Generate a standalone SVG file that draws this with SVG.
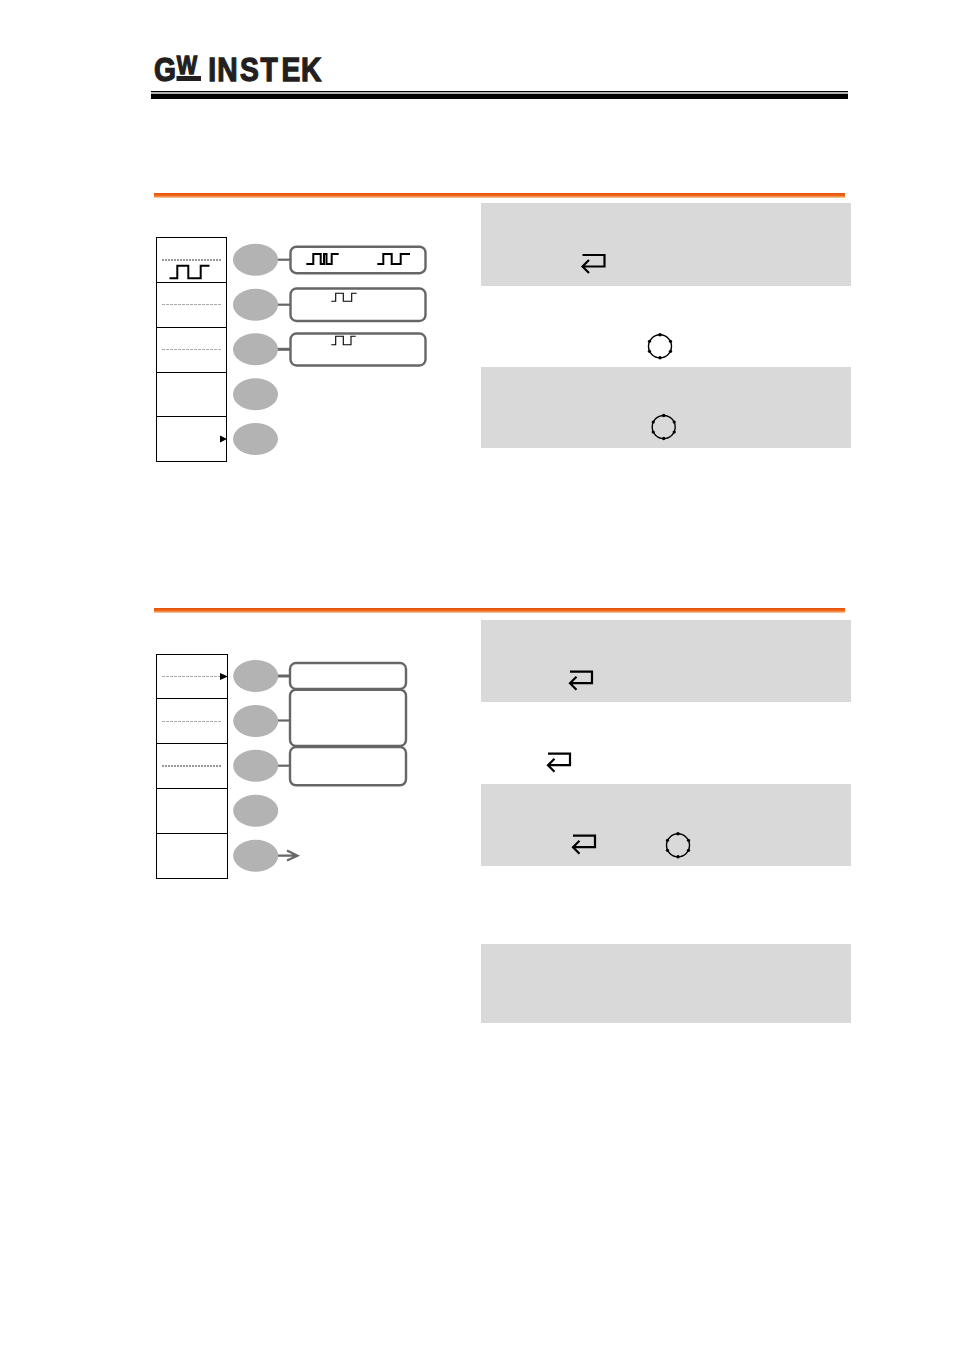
<svg xmlns="http://www.w3.org/2000/svg" width="954" height="1349" viewBox="0 0 954 1349">
<style>
.logo{font-family:"Liberation Sans",Arial,sans-serif;font-weight:700;fill:#231f20;stroke:#231f20;stroke-width:1.3;font-size:34px}
.cell{fill:#fff;stroke:#000;stroke-width:1}
.btn{fill:#b3b3b3}
.lbl{fill:#fff;stroke:#666;stroke-width:2.4}
.conn{fill:none;stroke:#666;stroke-width:2.2}
.wave{fill:none;stroke:#000;stroke-width:1.1}
.wave2{fill:none;stroke:#000;stroke-width:2}
.dot1{stroke:#aaa;stroke-width:1;stroke-dasharray:3 1;fill:none}
.dot2{stroke:#999;stroke-width:1.8;stroke-dasharray:2 1;fill:none}
.panel{fill:#d9d9d9}
.enter{fill:none;stroke:#000;stroke-width:2.2}
.knob{fill:none;stroke:#000;stroke-width:1.4}
.tri{fill:#000}
</style>
<defs>
<linearGradient id="rule" x1="0" y1="0" x2="0" y2="1">
<stop offset="0" stop-color="#e64f08"/><stop offset=".55" stop-color="#ee6a1c"/><stop offset="1" stop-color="#fbd5b0"/>
</linearGradient>
<path id="enterIcon" class="enter" d="M582.5 255H604.5V266.500H582.500M589 260L582.500 266.500L589 273"/>
<g id="knobIcon">
<circle class="knob" r="11.500"/>
<circle r="1.700" cy="-11.500"/><circle r="1.700" cy="11.500"/><circle r="1.600" cx="-10.500" cy="5"/><circle r="1.600" cx="10.500" cy="5"/><circle r="1.600" cx="-10.500" cy="-5"/><circle r="1.600" cx="10.500" cy="-5"/>
</g>
</defs>
<rect width="954" height="1349" fill="#fff"/>

<g id="header">
<text class="logo" transform="translate(154 81) scale(.83 1)"><tspan x="0">G</tspan><tspan x="27.300" dy="-7" style="font-size:26px">W</tspan><tspan x="55 65.500 76.300 103.500 128.300 153.500 177" dy="7"> INSTEK</tspan></text>
<rect x="176.500" y="76" width="24.500" height="5" fill="#231f20"/>
<rect x="151" y="91" width="697" height="1.300"/>
<rect x="151" y="93.700" width="697" height="5.300"/>
</g>

<rect id="rule1" x="154" y="193" width="691" height="5" fill="url(#rule)"/>
<rect id="rule2" x="154" y="608" width="691" height="5" fill="url(#rule)"/>

<g id="panels">
<rect class="panel" x="481" y="203" width="370" height="83"/>
<rect class="panel" x="481" y="367" width="370" height="81"/>
<rect class="panel" x="481" y="620" width="370" height="82"/>
<rect class="panel" x="481" y="784" width="370" height="82"/>
<rect class="panel" x="481" y="944" width="370" height="79"/>
</g>

<g id="connectors">
<path class="conn" d="M277 259.700H291"/>
<path class="conn" d="M277 304.700H291"/>
<path class="conn" d="M277 349.300H291" style="stroke-width:3"/>
<path class="conn" d="M277 676H290" style="stroke-width:3"/>
<path class="conn" d="M277 720.500H290"/>
<path class="conn" d="M277 765.700H290"/>
<path class="conn" d="M277 855.700H297M287 850.500L297.500 855.700L287 860.500"/>
</g>

<g id="menu1">
<rect class="cell" x="156.500" y="237.500" width="70" height="45"/>
<rect class="cell" x="156.500" y="282.500" width="70" height="45"/>
<rect class="cell" x="156.500" y="327.500" width="70" height="45"/>
<rect class="cell" x="156.500" y="372.500" width="70" height="44"/>
<rect class="cell" x="156.500" y="416.500" width="70" height="45"/>
<path class="dot2" d="M162 260H221"/>
<path class="dot1" d="M162 304.500H221"/>
<path class="dot1" d="M162 349.500H221"/>
<path class="wave2" d="M169.500 278.300H177.300V265.700H188.300V278.300H200.700V265.700H209.500"/>
<path class="tri" d="M220 435.500L227 439L220 442.500Z"/>
</g>

<g id="btn1a"><ellipse class="btn" cx="255.500" cy="259.700" rx="22.500" ry="16"/></g>
<g id="btn1b"><ellipse class="btn" cx="255.500" cy="304.700" rx="22.500" ry="16"/></g>
<g id="btn1c"><ellipse class="btn" cx="255.500" cy="349.300" rx="22.500" ry="16"/></g>
<g id="btn1d"><ellipse class="btn" cx="255.500" cy="394.300" rx="22.500" ry="16"/></g>
<g id="btn1e"><ellipse class="btn" cx="255.500" cy="439" rx="22.500" ry="16"/></g>

<g id="label1a">
<rect class="lbl" x="290.500" y="246.700" width="135" height="26.500" rx="6"/>
<path class="wave2" d="M306.300 264H313.300V254H320.700V264H324V254H326.500V264H331.700V254H338.700"/>
<path class="wave2" d="M377.300 264H383.300V254H391.700V264H400.700V254H410"/>
</g>
<g id="label1b">
<rect class="lbl" x="290.500" y="288.500" width="135" height="32.500" rx="6"/>
<path class="wave" d="M331.300 301.300H335.700V293.300H343.300V301.300H351.700V293.300H356.700"/>
</g>
<g id="label1c">
<rect class="lbl" x="290.500" y="333.500" width="135" height="32" rx="6"/>
<path class="wave" d="M331.300 344.700H335.700V336.300H343.300V344.700H351V336.300H355.700"/>
</g>

<g id="menu2">
<rect class="cell" x="156.500" y="654.500" width="71" height="44"/>
<rect class="cell" x="156.500" y="698.500" width="71" height="45"/>
<rect class="cell" x="156.500" y="743.500" width="71" height="45"/>
<rect class="cell" x="156.500" y="788.500" width="71" height="45"/>
<rect class="cell" x="156.500" y="833.500" width="71" height="45"/>
<path class="dot1" d="M162 676.500H221"/>
<path class="dot1" d="M162 721.500H221"/>
<path class="dot2" d="M162 766H221"/>
<path class="tri" d="M220 673L228 676.500L220 680Z"/>
</g>

<g id="btn2a"><ellipse class="btn" cx="255.700" cy="676" rx="22.500" ry="16"/></g>
<g id="btn2b"><ellipse class="btn" cx="255.700" cy="721" rx="22.500" ry="16"/></g>
<g id="btn2c"><ellipse class="btn" cx="255.700" cy="765.700" rx="22.500" ry="16"/></g>
<g id="btn2d"><ellipse class="btn" cx="255.700" cy="810.700" rx="22.500" ry="16"/></g>
<g id="btn2e"><ellipse class="btn" cx="255.700" cy="855.700" rx="22.500" ry="16"/></g>

<g id="label2a"><rect class="lbl" x="290" y="663" width="116" height="26" rx="6"/></g>
<g id="label2b"><rect class="lbl" x="290" y="689.700" width="116" height="56.300" rx="6"/></g>
<g id="label2c"><rect class="lbl" x="290" y="747" width="116" height="38.300" rx="6"/></g>

<g id="icons">
<use href="#enterIcon"/>
<use href="#enterIcon" transform="translate(-12.500 416.700)"/>
<use href="#enterIcon" transform="translate(-34.500 498.700)"/>
<use href="#enterIcon" transform="translate(-9.500 580.700)"/>
<use href="#knobIcon" transform="translate(660 346.300)"/>
<use href="#knobIcon" transform="translate(663.700 427)"/>
<use href="#knobIcon" transform="translate(678 845.300)"/>
</g>
</svg>
